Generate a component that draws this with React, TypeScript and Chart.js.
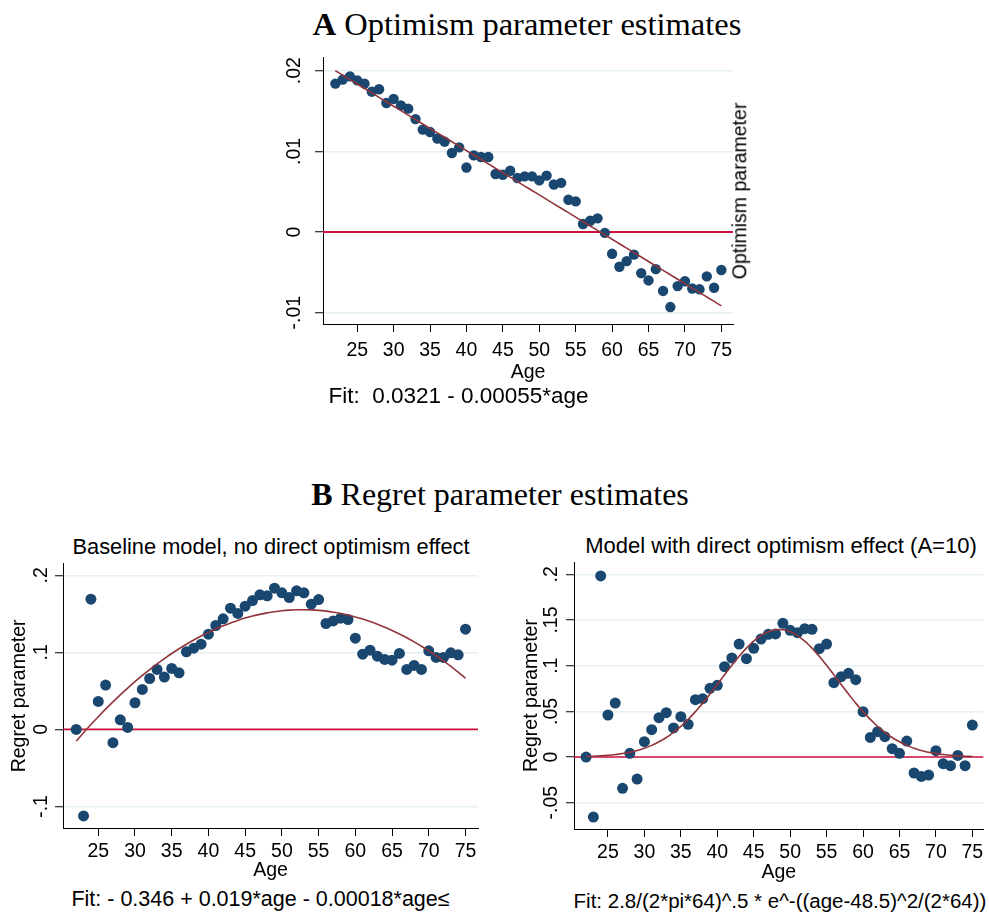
import React, { useEffect, useRef } from "react";
import { Chart, registerables } from "chart.js";

Chart.register(...registerables);

// Age of respondents (one estimate per age year)
const ages = [
  22, 23, 24, 25, 26, 27, 28, 29, 30, 31, 32, 33, 34, 35, 36, 37, 38, 39,
  40, 41, 42, 43, 44, 45, 46, 47, 48, 49, 50, 51, 52, 53, 54, 55, 56, 57,
  58, 59, 60, 61, 62, 63, 64, 65, 66, 67, 68, 69, 70, 71, 72, 73, 74, 75,
];

// Panel A: optimism parameter by age
const optimism = [
  0.0184, 0.0189, 0.0193, 0.0188, 0.0184, 0.0174, 0.0177, 0.016, 0.0165,
  0.0157, 0.0153, 0.014, 0.0127, 0.0124, 0.0116, 0.0112, 0.0098, 0.0105,
  0.008, 0.0095, 0.0093, 0.0093, 0.0072, 0.0071, 0.0076, 0.0067, 0.0069,
  0.0069, 0.0064, 0.007, 0.0059, 0.0061, 0.004, 0.0038, 0.001, 0.0014,
  0.0017, -0.0001, -0.0027, -0.0043, -0.0036, -0.0028, -0.0051, -0.006,
  -0.0046, -0.0073, -0.0093, -0.0067, -0.0061, -0.007, -0.0071, -0.0055,
  -0.0069, -0.0047,
];

// Panel B (left): regret parameter, baseline model
const regretBaseline = [
  0.0, -0.1124, 0.169, 0.0363, 0.0575, -0.0173, 0.0125, 0.0026, 0.0346,
  0.0519, 0.0661, 0.0778, 0.0679, 0.0791, 0.0735, 0.1007, 0.1055, 0.1107,
  0.1236, 0.1349, 0.1435, 0.1574, 0.1505, 0.16, 0.1673, 0.1747, 0.1734,
  0.1833, 0.1773, 0.1712, 0.1799, 0.1773, 0.1626, 0.1686, 0.1375, 0.1409,
  0.1444, 0.1427, 0.1185, 0.0977, 0.1029, 0.0951, 0.0908, 0.0899, 0.0986,
  0.0778, 0.083, 0.0778, 0.102, 0.0934, 0.0934, 0.0994, 0.0968, 0.1301,
];

// Panel B (right): regret parameter, model with direct optimism effect
const regretDirect = [
  0.0, -0.0657, 0.1982, 0.046, 0.0591, -0.0343, 0.004, -0.0241, 0.0168,
  0.0299, 0.0431, 0.0485, 0.0318, 0.0442, 0.0358, 0.0628, 0.0639, 0.0752,
  0.0785, 0.0989, 0.1084, 0.1237, 0.1077, 0.119, 0.1292, 0.1343, 0.1347,
  0.1464, 0.1387, 0.1361, 0.1405, 0.1398, 0.1186, 0.1237, 0.0814, 0.088,
  0.0916, 0.0847, 0.0496, 0.0215, 0.0277, 0.0223, 0.0091, 0.004, 0.0175,
  -0.0175, -0.0212, -0.0197, 0.0069, -0.0073, -0.0095, 0.0018, -0.0095,
  0.035,
];

// Axis ticks
const ageTicks = [25, 30, 35, 40, 45, 50, 55, 60, 65, 70, 75];
const optimismTicks = [-0.01, 0, 0.01, 0.02];
const optimismTickLabels = ["-.01", "0", ".01", ".02"];
const baselineTicks = [-0.1, 0, 0.1, 0.2];
const baselineTickLabels = ["-.1", "0", ".1", ".2"];
const directTicks = [-0.05, 0, 0.05, 0.1, 0.15, 0.2];
const directTickLabels = ["-.05", "0", ".05", ".1", ".15", ".2"];

// Fitted-curve coefficients as printed under each panel
const optimismFit = [0.0321, -0.00055]; // intercept, slope
const baselineFit = [-0.346, 0.019, -0.00018]; // constant, age, age^2
const directFit = [2.8, 64, 48.5]; // scale, variance, mean

const NAVY = "#1a476f";
const MAROON = "#90353b";
const ZERO_RED = "#cf0f3c";
const GRID = "#e6eff1";
const SANS = "'Liberation Sans', Arial, Helvetica, sans-serif";
const SERIF = "'Liberation Serif', 'Times New Roman', Times, serif";
const TICK_SIZE = 19.5;

type Pt = { x: number; y: number };

const toPoints = (ys: number[]): Pt[] => ages.map((a, i) => ({ x: a, y: ys[i] }));

const linearCurve = (): Pt[] =>
  ages.map((a) => ({ x: a, y: optimismFit[0] + optimismFit[1] * a }));

const quadraticCurve = (): Pt[] =>
  ages.map((a) => ({
    x: a,
    y: baselineFit[0] + baselineFit[1] * a + baselineFit[2] * a * a,
  }));

const gaussianCurve = (): Pt[] => {
  const [scale, variance, mean] = directFit;
  const pts: Pt[] = [];
  ages.forEach((a, i) => {
    const xs = i < ages.length - 1 ? [a, a + 0.5] : [a];
    xs.forEach((x) => {
      pts.push({
        x,
        y:
          (scale / Math.sqrt(2 * Math.PI * variance)) *
          Math.exp(-((x - mean) ** 2) / (2 * variance)),
      });
    });
  });
  return pts;
};

type PanelProps = {
  left: number;
  top: number;
  width: number;
  height: number;
  points: Pt[];
  fit: Pt[];
  xRange: [number, number];
  yRange: [number, number];
  yTicks: number[];
  yTickLabels: string[];
  yTitle?: string;
  yAxisWidth: number;
  xAxisHeight: number;
  padTop: number;
  padRight: number;
  yLabelPad: number;
  yTitlePad: number;
  xLabelPad: number;
  xTitlePad: number;
  pointRadius: number;
  zeroWidth: number;
};

function Panel(p: PanelProps) {
  const ref = useRef<HTMLCanvasElement | null>(null);

  useEffect(() => {
    if (!ref.current) return;
    const chart = new Chart(ref.current, {
      type: "scatter",
      data: {
        datasets: [
          {
            type: "line",
            data: p.fit,
            borderColor: MAROON,
            borderWidth: 1.6,
            pointRadius: 0,
            fill: false,
            cubicInterpolationMode: "monotone",
            order: 0,
          },
          {
            type: "scatter",
            data: p.points,
            backgroundColor: NAVY,
            borderWidth: 0,
            pointRadius: p.pointRadius,
            order: 1,
          },
          {
            type: "line",
            data: [
              { x: p.xRange[0], y: 0 },
              { x: p.xRange[1], y: 0 },
            ],
            borderColor: ZERO_RED,
            borderWidth: p.zeroWidth,
            pointRadius: 0,
            fill: false,
            order: 2,
          },
        ],
      },
      options: {
        animation: false,
        responsive: false,
        maintainAspectRatio: false,
        events: [],
        layout: { padding: { top: p.padTop, right: p.padRight, left: 0, bottom: 0 } },
        plugins: { legend: { display: false }, tooltip: { enabled: false } },
        scales: {
          x: {
            type: "linear",
            min: p.xRange[0],
            max: p.xRange[1],
            afterBuildTicks: (s: any) => {
              s.ticks = ageTicks.map((v) => ({ value: v }));
            },
            afterFit: (s: any) => {
              s.height = p.xAxisHeight;
            },
            grid: {
              drawOnChartArea: false,
              drawTicks: true,
              tickLength: 8,
              tickColor: "#000",
              tickWidth: 1,
            },
            border: { display: true, color: "#000", width: 1 },
            ticks: {
              color: "#000",
              font: { family: SANS, size: TICK_SIZE },
              padding: p.xLabelPad,
              maxRotation: 0,
              autoSkip: false,
            },
            title: {
              display: true,
              text: "Age",
              color: "#000",
              font: { family: SANS, size: 19.5 },
              padding: { top: 0, bottom: p.xTitlePad },
            },
          },
          y: {
            type: "linear",
            min: p.yRange[0],
            max: p.yRange[1],
            afterBuildTicks: (s: any) => {
              s.ticks = p.yTicks.map((v) => ({ value: v }));
            },
            afterFit: (s: any) => {
              s.width = p.yAxisWidth;
            },
            grid: {
              color: GRID,
              lineWidth: 1.5,
              drawTicks: true,
              tickLength: 8,
              tickColor: "#000",
              tickWidth: 1,
            },
            border: { display: true, color: "#000", width: 1 },
            ticks: {
              color: "#000",
              font: { family: SANS, size: TICK_SIZE },
              minRotation: 90,
              maxRotation: 90,
              crossAlign: "center",
              padding: p.yLabelPad,
              autoSkip: false,
              callback: (v: any) => {
                const i = p.yTicks.indexOf(Number(v));
                return i >= 0 ? p.yTickLabels[i] : "";
              },
            },
            title: p.yTitle
              ? {
                  display: true,
                  text: p.yTitle,
                  color: "#000",
                  font: { family: SANS, size: 19.5 },
                  padding: { top: p.yTitlePad, bottom: 0 },
                }
              : { display: false },
          },
        },
      },
    } as any);
    return () => chart.destroy();
  }, []);

  return (
    <canvas
      ref={ref}
      width={p.width}
      height={p.height}
      style={{
        position: "absolute",
        left: p.left,
        top: p.top,
        width: p.width,
        height: p.height,
      }}
    />
  );
}

type TextProps = {
  x: number;
  y: number;
  size: number;
  family: string;
  rotate?: number;
  children: React.ReactNode;
};

// Text centred on (x, y)
function Text({ x, y, size, family, rotate = 0, children }: TextProps) {
  return (
    <div
      style={{
        position: "absolute",
        left: x,
        top: y,
        fontFamily: family,
        fontSize: size,
        lineHeight: `${size}px`,
        whiteSpace: "pre",
        color: "#000",
        transform: `translate(-50%, -50%) rotate(${rotate}deg)`,
      }}
    >
      {children}
    </div>
  );
}

export default function App() {
  return (
    <div
      style={{
        position: "absolute",
        left: 0,
        top: 0,
        width: 989,
        height: 915,
        background: "#fff",
        overflow: "hidden",
      }}
    >
      <Text x={527} y={24} size={32.5} family={SERIF}>
        <b>A</b> Optimism parameter estimates
      </Text>

      <Panel
        left={250}
        top={40}
        width={500}
        height={350}
        points={toPoints(optimism)}
        fit={linearCurve()}
        xRange={[20.3, 76.6]}
        yRange={[-0.0114, 0.0217]}
        yTicks={optimismTicks}
        yTickLabels={optimismTickLabels}
        yAxisWidth={73}
        xAxisHeight={66}
        padTop={17}
        padRight={17}
        yLabelPad={3.2}
        yTitlePad={0}
        xLabelPad={6.5}
        xTitlePad={5.6}
        pointRadius={5.2}
        zeroWidth={2}
      />
      <Text x={740} y={191} size={19.5} family={SANS} rotate={-90}>
        Optimism parameter
      </Text>
      <Text x={458.5} y={395.5} size={22.5} family={SANS}>
        {"Fit:  0.0321 - 0.00055*age"}
      </Text>

      <Text x={500} y={494} size={32} family={SERIF}>
        <b>B</b> Regret parameter estimates
      </Text>

      <Text x={271} y={546.5} size={21.8} family={SANS}>
        Baseline model, no direct optimism effect
      </Text>
      <Panel
        left={0}
        top={550}
        width={490}
        height={335}
        points={toPoints(regretBaseline)}
        fit={quadraticCurve()}
        xRange={[20.2, 76.7]}
        yRange={[-0.128, 0.215]}
        yTicks={baselineTicks}
        yTickLabels={baselineTickLabels}
        yTitle="Regret parameter"
        yAxisWidth={63}
        xAxisHeight={57}
        padTop={13}
        padRight={12}
        yLabelPad={2.1}
        yTitlePad={8.3}
        xLabelPad={3.5}
        xTitlePad={2.4}
        pointRadius={5.5}
        zeroWidth={1.6}
      />
      <Text x={260.5} y={900} size={21.5} family={SANS}>
        {"Fit: - 0.346 + 0.019*age - 0.00018*age\u2264"}
      </Text>

      <Text x={781} y={546} size={22} family={SANS}>
        Model with direct optimism effect (A=10)
      </Text>
      <Panel
        left={500}
        top={550}
        width={489}
        height={335}
        points={toPoints(regretDirect)}
        fit={gaussianCurve()}
        xRange={[20.34, 76.53]}
        yRange={[-0.0788, 0.2135]}
        yTicks={directTicks}
        yTickLabels={directTickLabels}
        yTitle="Regret parameter"
        yAxisWidth={74}
        xAxisHeight={56}
        padTop={12}
        padRight={1}
        yLabelPad={-2.3}
        yTitlePad={19.8}
        xLabelPad={3.5}
        xTitlePad={0.4}
        pointRadius={5.5}
        zeroWidth={1.6}
      />
      <Text x={780} y={900.5} size={20.5} family={SANS}>
        {"Fit: 2.8/(2*pi*64)^.5 * e^-((age-48.5)^2/(2*64))"}
      </Text>
    </div>
  );
}
